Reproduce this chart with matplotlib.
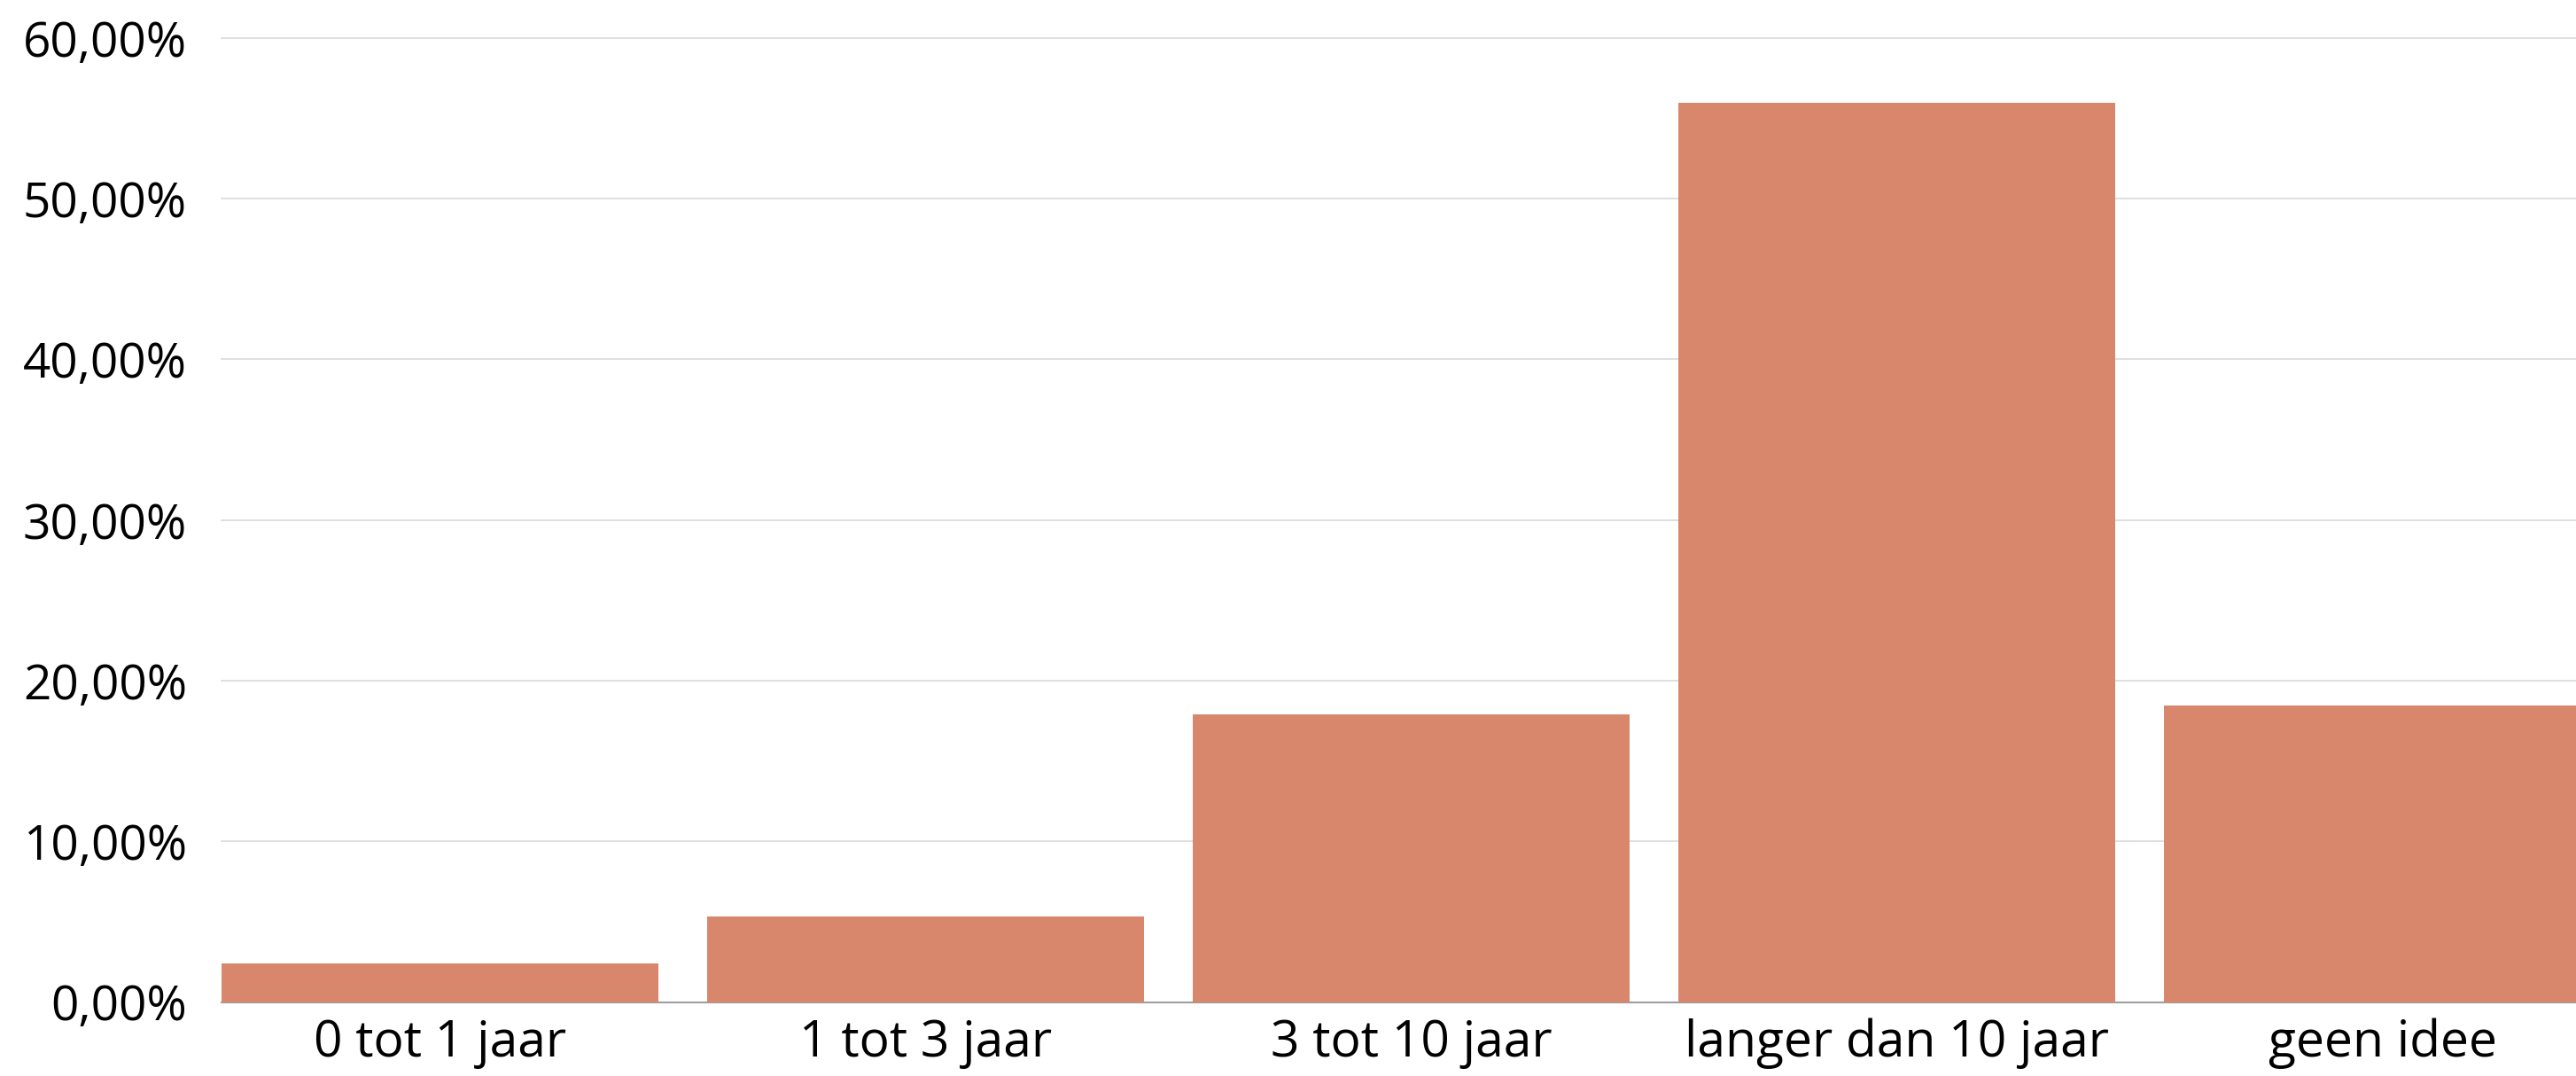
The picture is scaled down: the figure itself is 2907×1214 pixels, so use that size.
import matplotlib
matplotlib.use("Agg")
import matplotlib.pyplot as plt
from matplotlib.ticker import FuncFormatter

categories = ["0 tot 1 jaar", "1 tot 3 jaar", "3 tot 10 jaar", "langer dan 10 jaar", "geen idee"]
values = [2.4, 5.35, 17.9, 55.95, 18.45]
yticks = [0, 10, 20, 30, 40, 50, 60]

W, H = 2907, 1214
dpi = 100
plt.rcParams['font.family'] = ['Open Sans', 'DejaVu Sans']

fig = plt.figure(figsize=(W / dpi, H / dpi), dpi=dpi)
left_px, bottom_px, top_px = 250, 83.5, 42.7
ax = fig.add_axes([left_px / W, bottom_px / H, (W - left_px) / W, (H - bottom_px - top_px) / H])

slot = 548.0
x = list(range(len(categories)))
ax.bar(x, values, width=0.9, color="#D8876D", zorder=3)
ax.set_xlim(-0.45, -0.45 + (W - left_px) / slot)
ax.set_ylim(0, 60)
ax.set_yticks(yticks)
ax.yaxis.set_major_formatter(FuncFormatter(lambda v, p: f"{v:.2f}%".replace(".", ",")))
ax.set_xticks(x)
ax.set_xticklabels(categories)
ax.grid(axis="y", color="#d9d9d9", linewidth=1.2, zorder=0)
ax.set_axisbelow(True)
for s in ["top", "right", "left"]:
    ax.spines[s].set_visible(False)
ax.spines["bottom"].set_color("#9e9e9e")
ax.spines["bottom"].set_linewidth(1.5)
ax.spines["bottom"].set_zorder(2)
ax.tick_params(axis="y", length=0, labelsize=39.5, colors="black", pad=28)
ax.tick_params(axis="x", length=0, labelsize=41, colors="black", pad=13)
for lbl in ax.get_yticklabels():
    lbl.set_clip_on(False)
for gl in ax.get_ygridlines():
    gl.set_clip_on(False)

fig.savefig("out.png", dpi=dpi, facecolor="white")
